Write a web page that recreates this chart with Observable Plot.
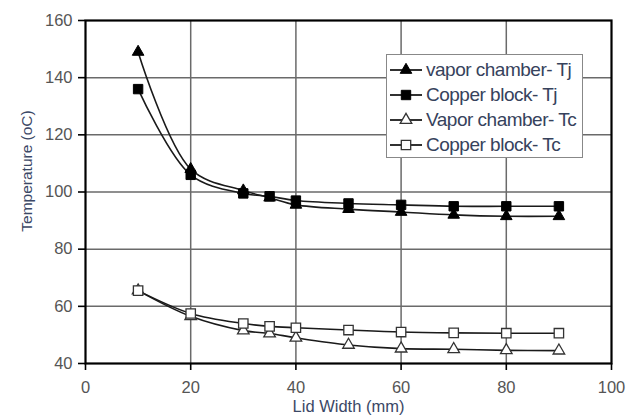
<!DOCTYPE html>
<html><head><meta charset="utf-8">
<script src="https://cdn.jsdelivr.net/npm/d3@7"></script>
<script src="https://cdn.jsdelivr.net/npm/@observablehq/plot@0.6"></script>
<style>
body{margin:0;background:#fff;}
#wrap{position:relative;width:641px;height:417px;font-family:"Liberation Sans",Arial,sans-serif;}
#legend{position:absolute;left:386px;top:54px;width:197px;height:104px;border:1.5px solid #888;background:#fff;box-sizing:border-box;}
.row{position:absolute;left:1px;height:24px;display:flex;align-items:center;}
.row span{font-size:19px;letter-spacing:-0.5px;color:#36425c;margin-left:2px;white-space:nowrap;}
</style></head><body><div id="wrap"></div>
<script>
// ---- data ----
const lidWidth = [10, 20, 30, 35, 40, 50, 60, 70, 80, 90];
const vaporTj  = [149, 108, 100.5, 98, 95.5, 94, 93, 92, 91.5, 91.5];
const copperTj = [136, 106, 99.5, 98.5, 97, 96, 95.5, 95, 95, 95];
const vaporTc  = [65.5, 56.5, 51.5, 50.5, 49, 46.5, 45.2, 45, 44.6, 44.5];
const copperTc = [65.5, 57.5, 54, 53, 52.5, 51.7, 51, 50.7, 50.6, 50.6];
const seriesNames = ["vapor chamber- Tj", "Copper block- Tj", "Vapor chamber- Tc", "Copper block- Tc"];
const xTicks = [0, 20, 40, 60, 80, 100];
const yTicks = [40, 60, 80, 100, 120, 140, 160];
const xTitle = "Lid Width (mm)";
const yTitle = "Temperature (oC)";

const seriesValues = [vaporTj, copperTj, vaporTc, copperTc];
const symbols = ["triangle", "square", "triangle", "square"];
const filled = [true, true, false, false];
const symR = {triangle: 4.3, square: 5.3};

const series = seriesNames.map((name, k) => ({
  name, symbol: symbols[k], filled: filled[k],
  points: lidWidth.map((x, i) => ({x, y: seriesValues[k][i]}))
}));

const marks = [
  Plot.gridX({ticks: xTicks.slice(1, -1), stroke: "#6a6a6a", strokeOpacity: 1, strokeWidth: 1.5}),
  Plot.gridY({ticks: yTicks.slice(1, -1), stroke: "#6a6a6a", strokeOpacity: 1, strokeWidth: 1.5}),
  Plot.frame({stroke: "#000", strokeWidth: 2.2}),
  Plot.axisX({ticks: xTicks, tickSize: 7, tickPadding: 11, fontSize: 16.5, fill: "#555", stroke: "#000", strokeWidth: 1.6, label: null}),
  Plot.axisY({ticks: yTicks, tickSize: 7, tickPadding: 6, fontSize: 16.5, fill: "#555", stroke: "#000", strokeWidth: 1.6, label: null}),
];
for (const s of series) {
  marks.push(Plot.line(s.points, {x: "x", y: "y", curve: "catmull-rom", stroke: "#1a1a1a", strokeWidth: 1.6}));
}
for (const s of series) {
  marks.push(Plot.dot(s.points, {x: "x", y: "y", symbol: s.symbol, r: symR[s.symbol],
    fill: s.filled ? "#000" : "#fff", stroke: s.filled ? "#000" : "#333", strokeWidth: s.filled ? 1 : 1.3}));
}
marks.push(Plot.text([xTitle], {text: d => d, frameAnchor: "bottom", lineAnchor: "middle", textAnchor: "middle", dy: 43, fontSize: 16.5, fill: "#3b4866"}));
marks.push(Plot.text([yTitle], {text: d => d, frameAnchor: "left", lineAnchor: "middle", textAnchor: "middle", dx: -58, dy: -21, rotate: -90, fontSize: 15.5, fill: "#3b4866"}));

const chart = Plot.plot({
  width: 641, height: 417,
  marginLeft: 85, marginRight: 30, marginTop: 20, marginBottom: 54,
  x: {domain: [0, 100]},
  y: {domain: [40, 160]},
  style: {fontFamily: "Liberation Sans, Arial, sans-serif", background: "#fff", overflow: "visible"},
  marks
});
const wrap = document.getElementById("wrap");
wrap.appendChild(chart);

// legend overlay
const legend = document.createElement("div");
legend.id = "legend";
series.forEach((s, i) => {
  const row = document.createElement("div");
  row.className = "row";
  row.style.top = (3 + 25 * i) + "px";
  const r = symR[s.symbol];
  const sym = d3.symbol(s.symbol === "triangle" ? d3.symbolTriangle : d3.symbolSquare, Math.PI * r * r)();
  row.innerHTML = `<svg width="36" height="24"><line x1="2" x2="34" y1="12" y2="12" stroke="#1a1a1a" stroke-width="1.8"/>` +
    `<path d="${sym}" transform="translate(18,12)" fill="${s.filled ? "#000" : "#fff"}" stroke="${s.filled ? "#000" : "#333"}" stroke-width="${s.filled ? 1 : 1.3}"/></svg>` +
    `<span>${s.name}</span>`;
  legend.appendChild(row);
});
wrap.appendChild(legend);
</script>
</body></html>
